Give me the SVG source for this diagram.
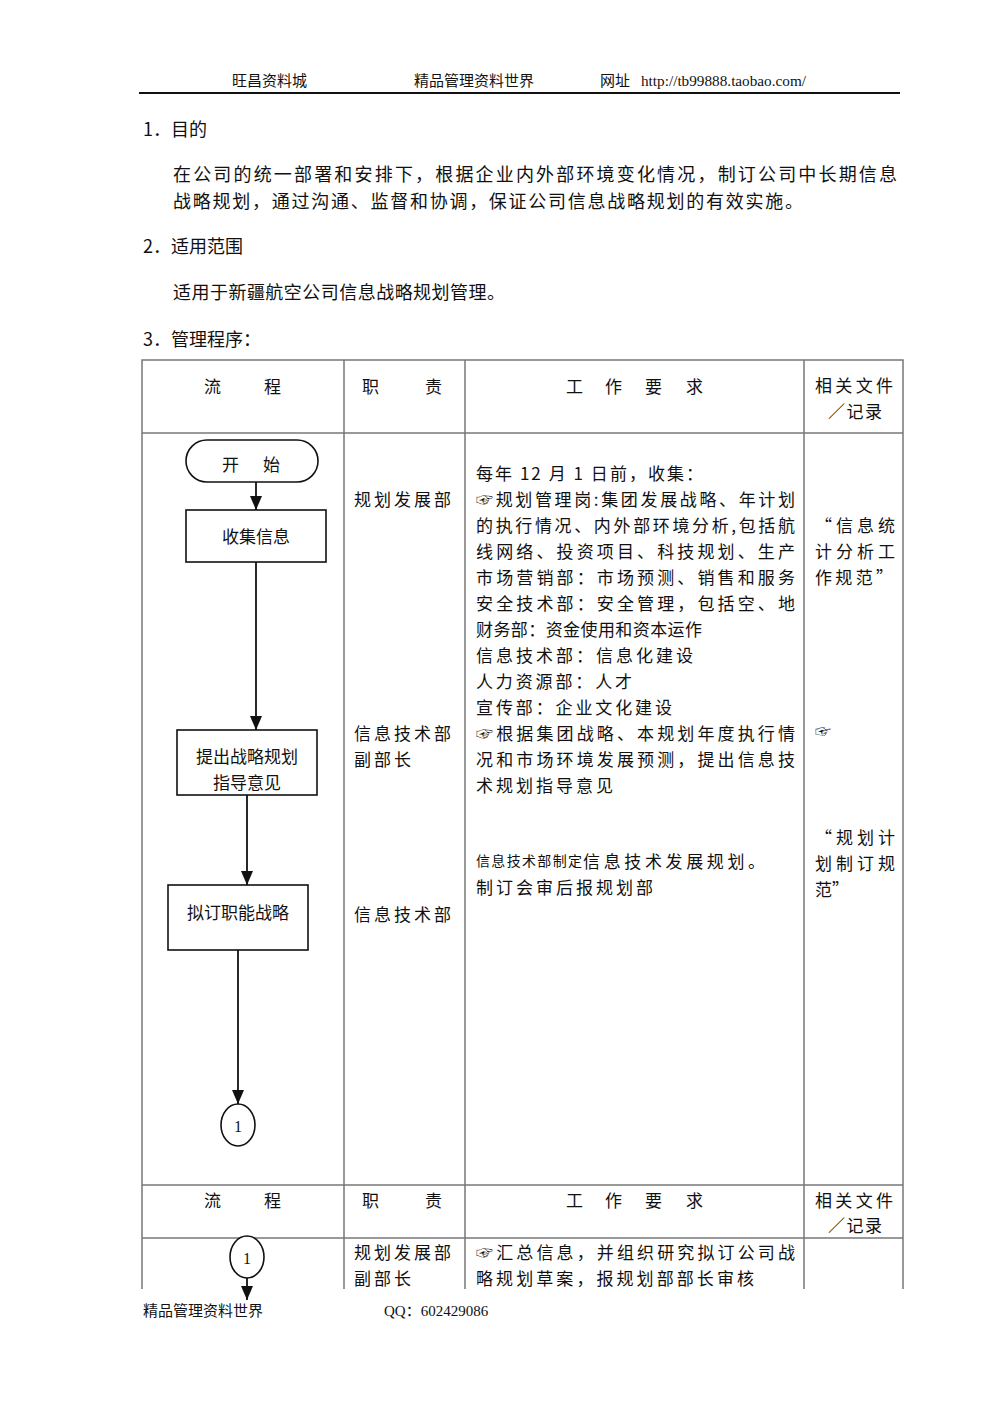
<svg xmlns="http://www.w3.org/2000/svg" width="992" height="1403" viewBox="0 0 992 1403">
<defs>
<style>
.t{font-family:"Noto Sans CJK SC","DejaVu Sans",sans-serif;font-size:17px;fill:#111;dominant-baseline:central}
.s{font-family:"Liberation Serif","Noto Sans CJK SC",serif;font-size:15px;fill:#111;dominant-baseline:central}
.h{font-family:"Noto Sans CJK SC",sans-serif;font-size:18px;fill:#111;dominant-baseline:central}
.grid{stroke:#777;stroke-width:1.5;fill:none}
.shape{stroke:#111;stroke-width:1.6;fill:#fff}
.conn{stroke:#111;stroke-width:1.8;fill:none}
</style>
<marker id="ah" markerWidth="14" markerHeight="12" refX="14" refY="6" orient="auto" markerUnits="userSpaceOnUse" viewBox="0 0 14 12">
<path d="M0,0 L14,6 L0,12 Z" fill="#111"/>
</marker>
</defs>
<rect width="992" height="1403" fill="#fff"/>

<!-- page header -->
<g id="page-header">
<text class="s" x="232" y="81">旺昌资料城</text>
<text class="s" x="414" y="81">精品管理资料世界</text>
<text class="s" x="600" y="81">网址</text>
<text class="s" x="641" y="81" textLength="165" lengthAdjust="spacingAndGlyphs">http://tb99888.taobao.com/</text>
<line x1="139" y1="93" x2="900" y2="93" stroke="#111" stroke-width="2"/>
</g>

<g id="sections">
<text class="h" x="143" y="128">1．目的</text>
<text class="h" x="173" y="173" textLength="724" lengthAdjust="spacing">在公司的统一部署和安排下，根据企业内外部环境变化情况，制订公司中长期信息</text>
<text class="h" x="173" y="200" textLength="630" lengthAdjust="spacing">战略规划，通过沟通、监督和协调，保证公司信息战略规划的有效实施。</text>
<text class="h" x="143" y="245">2．适用范围</text>
<text class="h" x="173" y="291" textLength="332" lengthAdjust="spacing">适用于新疆航空公司信息战略规划管理。</text>
<text class="h" x="143" y="338">3．管理程序：</text>
</g>

<!-- table grid -->
<g id="table">
<polyline class="grid" points="142,1289 142,360 903,360 903,1289"/>
<line class="grid" x1="344" y1="360" x2="344" y2="1289"/>
<line class="grid" x1="465" y1="360" x2="465" y2="1289"/>
<line class="grid" x1="804" y1="360" x2="804" y2="1289"/>
<line class="grid" x1="142" y1="433" x2="903" y2="433"/>
<line class="grid" x1="142" y1="1185" x2="903" y2="1185"/>
<line class="grid" x1="142" y1="1238" x2="903" y2="1238"/>
</g>

<g id="table-headers">
<text class="t" x="204" y="385">流</text><text class="t" x="264" y="385">程</text>
<text class="t" x="362" y="385">职</text><text class="t" x="425" y="385">责</text>
<text class="t" x="566" y="385">工</text><text class="t" x="605" y="385">作</text><text class="t" x="645" y="385">要</text><text class="t" x="686" y="385">求</text>
<text class="t" x="815" y="384" textLength="78" lengthAdjust="spacing">相关文件</text>
<text class="t" x="828" y="410" textLength="54" lengthAdjust="spacing">／记录</text>
<text class="t" x="204" y="1199">流</text><text class="t" x="264" y="1199">程</text>
<text class="t" x="362" y="1199">职</text><text class="t" x="425" y="1199">责</text>
<text class="t" x="566" y="1199">工</text><text class="t" x="605" y="1199">作</text><text class="t" x="645" y="1199">要</text><text class="t" x="686" y="1199">求</text>
<text class="t" x="815" y="1199" textLength="78" lengthAdjust="spacing">相关文件</text>
<text class="t" x="828" y="1224" textLength="54" lengthAdjust="spacing">／记录</text>
</g>

<!-- connectors -->
<g id="connectors">
<line class="conn" x1="256" y1="482" x2="256" y2="510" marker-end="url(#ah)"/>
<line class="conn" x1="256" y1="562" x2="256" y2="730" marker-end="url(#ah)"/>
<line class="conn" x1="247" y1="795" x2="247" y2="885" marker-end="url(#ah)"/>
<line class="conn" x1="238" y1="950" x2="238" y2="1104" marker-end="url(#ah)"/>
<line class="conn" x1="247" y1="1278" x2="247" y2="1300" marker-end="url(#ah)"/>
</g>

<!-- nodes -->
<g id="start">
<rect class="shape" x="186" y="440" width="132" height="42" rx="21" ry="21"/>
<text class="t" x="222" y="463">开</text><text class="t" x="263" y="463">始</text>
</g>
<g id="collect">
<rect class="shape" x="186" y="510" width="140" height="52"/>
<text class="t" x="256" y="535" text-anchor="middle">收集信息</text>
</g>
<g id="guidance">
<rect class="shape" x="177" y="730" width="140" height="65"/>
<text class="t" x="247" y="755" text-anchor="middle">提出战略规划</text>
<text class="t" x="247" y="781" text-anchor="middle">指导意见</text>
</g>
<g id="draft">
<rect class="shape" x="168" y="885" width="140" height="65"/>
<text class="t" x="238" y="911" text-anchor="middle">拟订职能战略</text>
</g>
<g id="connector-1a">
<ellipse class="shape" cx="238" cy="1125" rx="17" ry="21"/>
<text class="s" x="238" y="1126" text-anchor="middle" style="font-size:16px">1</text>
</g>
<g id="connector-1b">
<ellipse class="shape" cx="247" cy="1257" rx="17" ry="21"/>
<text class="s" x="247" y="1258" text-anchor="middle" style="font-size:16px">1</text>
</g>

<!-- role column -->
<g id="roles">
<text class="t" x="354" y="498" textLength="97" lengthAdjust="spacing">规划发展部</text>
<text class="t" x="354" y="732" textLength="97" lengthAdjust="spacing">信息技术部</text>
<text class="t" x="354" y="758" textLength="57" lengthAdjust="spacing">副部长</text>
<text class="t" x="354" y="913" textLength="97" lengthAdjust="spacing">信息技术部</text>
<text class="t" x="354" y="1251" textLength="97" lengthAdjust="spacing">规划发展部</text>
<text class="t" x="354" y="1277" textLength="57" lengthAdjust="spacing">副部长</text>
</g>

<!-- work requirement column -->
<g id="requirements">
<text class="t" x="476" y="472" textLength="227" lengthAdjust="spacing">每年 12 月 1 日前，收集：</text>
<text class="t" x="476" y="498" textLength="319" lengthAdjust="spacing">☞规划管理岗:集团发展战略、年计划</text>
<text class="t" x="476" y="524" textLength="319" lengthAdjust="spacing">的执行情况、内外部环境分析,包括航</text>
<text class="t" x="476" y="550" textLength="319" lengthAdjust="spacing">线网络、投资项目、科技规划、生产</text>
<text class="t" x="476" y="576" textLength="319" lengthAdjust="spacing">市场营销部：市场预测、销售和服务</text>
<text class="t" x="476" y="602" textLength="319" lengthAdjust="spacing">安全技术部：安全管理，包括空、地</text>
<text class="t" x="476" y="628" textLength="226" lengthAdjust="spacing">财务部：资金使用和资本运作</text>
<text class="t" x="476" y="654" textLength="217" lengthAdjust="spacing">信息技术部：信息化建设</text>
<text class="t" x="476" y="680" textLength="156" lengthAdjust="spacing">人力资源部：人才</text>
<text class="t" x="476" y="706" textLength="196" lengthAdjust="spacing">宣传部：企业文化建设</text>
<text class="t" x="476" y="732" textLength="319" lengthAdjust="spacing">☞根据集团战略、本规划年度执行情</text>
<text class="t" x="476" y="758" textLength="319" lengthAdjust="spacing">况和市场环境发展预测，提出信息技</text>
<text class="t" x="476" y="784" textLength="137" lengthAdjust="spacing">术规划指导意见</text>
<text class="t" x="476" y="860" style="font-size:14px" textLength="106" lengthAdjust="spacing">信息技术部制定</text>
<text class="t" x="583" y="860" textLength="182" lengthAdjust="spacing">信息技术发展规划。</text>
<text class="t" x="476" y="886" textLength="177" lengthAdjust="spacing">制订会审后报规划部</text>
<text class="t" x="476" y="1251" textLength="319" lengthAdjust="spacing">☞汇总信息，并组织研究拟订公司战</text>
<text class="t" x="476" y="1277" textLength="278" lengthAdjust="spacing">略规划草案，报规划部部长审核</text>
</g>

<!-- related documents column -->
<g id="documents">
<text class="t" x="815" y="524" textLength="80" lengthAdjust="spacing">“信息统</text>
<text class="t" x="815" y="550" textLength="80" lengthAdjust="spacing">计分析工</text>
<text class="t" x="815" y="576" textLength="78" lengthAdjust="spacing">作规范”</text>
<text class="t" x="815" y="730" style="font-size:16px">☞</text>
<text class="t" x="815" y="836" textLength="80" lengthAdjust="spacing">“规划计</text>
<text class="t" x="815" y="862" textLength="80" lengthAdjust="spacing">划制订规</text>
<text class="t" x="815" y="888">范”</text>
</g>

<g id="page-footer">
<text class="s" x="143" y="1311">精品管理资料世界</text>
<text class="s" x="384" y="1311">QQ：602429086</text>
</g>
</svg>
